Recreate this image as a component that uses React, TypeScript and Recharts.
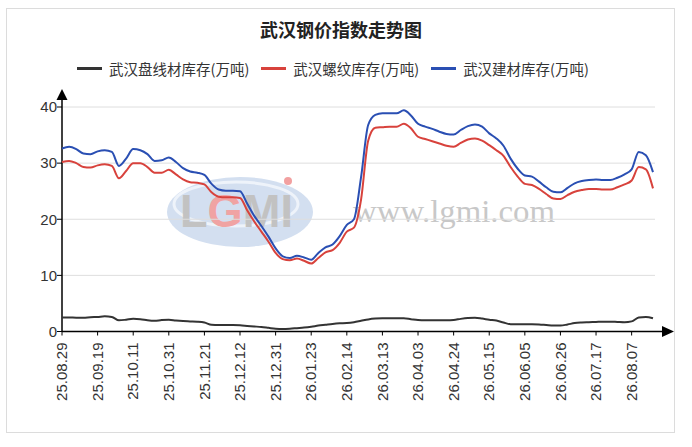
import React from 'react';
import { LineChart, Line, XAxis, YAxis, CartesianGrid, usePlotArea } from 'recharts';

const tickLabels = [
  '25.08.29', '25.09.19', '25.10.11', '25.10.31', '25.11.21', '25.12.12', '25.12.31',
  '26.01.23', '26.02.14', '26.03.13', '26.04.03', '26.04.24', '26.05.15', '26.06.05',
  '26.06.26', '26.07.17', '26.08.07',
];

const wireRod = [
  2.5, 2.5, 2.45, 2.45, 2.55, 2.6, 2.7, 2.6, 2.0, 2.1,
  2.25, 2.2, 2.0, 1.9, 2.05, 2.1, 1.95, 1.85, 1.8, 1.75,
  1.6, 1.2, 1.15, 1.15, 1.15, 1.1, 1.0, 0.9, 0.8, 0.65,
  0.5, 0.45, 0.5, 0.6, 0.7, 0.85, 1.05, 1.2, 1.35, 1.45,
  1.5, 1.65, 1.9, 2.15, 2.3, 2.35, 2.35, 2.35, 2.35, 2.2,
  2.05, 2.0, 2.0, 2.0, 2.0, 2.05, 2.25, 2.4, 2.45, 2.3,
  2.1, 1.95, 1.6, 1.3, 1.28, 1.28, 1.28, 1.25, 1.15, 1.05,
  1.05, 1.25, 1.5, 1.6, 1.65, 1.7, 1.75, 1.75, 1.7, 1.65,
  1.8, 2.5, 2.6, 2.35,
];

const rebar = [
  30.2, 30.4, 30.0, 29.3, 29.2, 29.6, 29.8, 29.5, 27.3, 28.6,
  30.0, 30.0, 29.3, 28.3, 28.3, 28.8, 28.0, 27.1, 26.6, 26.5,
  26.2, 24.8, 24.0, 23.9, 23.9, 23.8, 21.6, 19.6, 17.8, 16.0,
  14.0, 12.9, 12.7, 13.0, 12.6, 12.1, 13.1, 14.1, 14.5, 15.8,
  17.8, 18.5, 23.5, 34.0, 36.3, 36.4, 36.5, 36.5, 37.0, 36.2,
  34.7, 34.3, 33.9, 33.5, 33.1, 32.9, 33.6, 34.2, 34.4, 34.0,
  33.2, 32.3, 31.3, 29.3, 27.6, 26.3, 26.1, 25.4, 24.5, 23.7,
  23.6, 24.3, 24.9, 25.2, 25.4, 25.4, 25.3, 25.3, 25.7, 26.2,
  26.9, 29.3, 28.9, 25.5,
];

const building = [
  32.6, 32.9, 32.5, 31.7, 31.6, 32.1, 32.3, 32.0, 29.5, 30.8,
  32.5, 32.3, 31.6, 30.4, 30.5, 31.0, 30.2, 29.1, 28.5, 28.3,
  27.9, 26.3, 25.3, 25.1, 25.1, 25.0, 22.8, 20.6, 18.8, 16.9,
  14.8, 13.4, 13.1, 13.5, 13.2, 12.8, 14.0, 15.0, 15.5, 17.0,
  19.0, 20.0, 27.5, 36.8, 38.6, 38.9, 38.9, 38.9, 39.4, 38.5,
  37.0, 36.5, 36.1, 35.6, 35.2, 35.1, 35.9, 36.6, 36.9, 36.5,
  35.3, 34.4, 33.1, 30.8, 29.0, 27.8, 27.6, 26.7, 25.7, 24.9,
  24.8, 25.6, 26.4, 26.8, 27.0, 27.1, 27.0, 27.0, 27.4, 28.0,
  28.9, 32.0, 31.4, 28.4,
];

const yTicks = [0, 10, 20, 30, 40];

const series = [
  { key: 'wireRod', name: '武汉盘线材库存(万吨)', color: '#333333' },
  { key: 'rebar', name: '武汉螺纹库存(万吨)', color: '#d8423c' },
  { key: 'building', name: '武汉建材库存(万吨)', color: '#2a4fb3' },
];

const data = wireRod.map((_, i) => ({
  i,
  wireRod: wireRod[i],
  rebar: rebar[i],
  building: building[i],
}));

const cjk = '"Noto Sans CJK SC", "Noto Sans", sans-serif';
const latin = '"Liberation Sans", Arial, sans-serif';

function AxisArrows() {
  const pa = usePlotArea();
  if (!pa) return null;
  const x0 = pa.x;
  const y0 = pa.y + pa.height;
  const xr = pa.x + pa.width;
  const yt = pa.y;
  return (
    <g>
      <line x1={x0} y1={y0} x2={xr + 8} y2={y0} stroke="#000" strokeWidth={1.5} />
      <polygon points={`${xr + 7},${y0 - 5.5} ${xr + 19},${y0} ${xr + 7},${y0 + 5.5}`} fill="#000" />
      <line x1={x0} y1={y0} x2={x0} y2={yt - 8} stroke="#000" strokeWidth={1.5} />
      <polygon points={`${x0 - 5.5},${yt - 7} ${x0},${yt - 18} ${x0 + 5.5},${yt - 7}`} fill="#000" />
    </g>
  );
}

const XTick = (props: any) => {
  const { x, y, payload } = props;
  const idx = Math.round(Number(payload.value) / 5);
  return (
    <text
      x={x}
      y={y}
      transform={`rotate(-90 ${x} ${y})`}
      textAnchor="end"
      dy="0.35em"
      fontSize={15}
      fontFamily={latin}
      fill="#333"
    >
      {tickLabels[idx]}
    </text>
  );
};

function Watermark() {
  return (
    <svg width={692} height={447} style={{ position: 'absolute', left: 0, top: 0 }}>
      <ellipse cx={240} cy={212} rx={73} ry={35} fill="#d3dff0" />
      <ellipse cx={236} cy={204} rx={62} ry={22} fill="none" stroke="#eef3fa" strokeWidth={3} />
      <text
        x={180}
        y={227}
        fontFamily={latin}
        fontWeight="bold"
        fontSize={46}
        textLength={113}
        lengthAdjust="spacingAndGlyphs"
      >
        <tspan fill="#c2c2c2">L</tspan>
        <tspan fill="#f0a3a3">G</tspan>
        <tspan fill="#c2c2c2">M</tspan>
        <tspan fill="#c2c2c2">I</tspan>
      </text>
      <circle cx={288} cy={181} r={4} fill="#f2a0a0" />
      <text
        x={353}
        y={222}
        fontFamily='"Liberation Serif", "Times New Roman", serif'
        fontSize={32}
        fill="#c8c8c8"
        textLength={202}
        lengthAdjust="spacingAndGlyphs"
      >
        www.lgmi.com
      </text>
    </svg>
  );
}

export default function App() {
  return (
    <div style={{ position: 'absolute', left: 0, top: 0, width: 692, height: 447, background: '#fff' }}>
      <div
        style={{
          position: 'absolute',
          left: 6,
          top: 8,
          width: 669,
          height: 425,
          border: '1px solid #dcdcdc',
          boxSizing: 'border-box',
        }}
      />
      <Watermark />
      <div
        style={{
          position: 'absolute',
          left: 0,
          top: 17,
          width: 682,
          textAlign: 'center',
          fontFamily: cjk,
          fontWeight: 'bold',
          fontSize: 18,
          lineHeight: '24px',
          color: '#222',
        }}
      >
        武汉钢价指数走势图
      </div>
      <div
        style={{
          position: 'absolute',
          left: 77,
          top: 57,
          height: 22,
          display: 'flex',
          alignItems: 'center',
          fontFamily: cjk,
          fontSize: 14.5,
          color: '#333',
          whiteSpace: 'nowrap',
        }}
      >
        {series.map((s, k) => (
          <div key={s.key} style={{ display: 'flex', alignItems: 'center', marginLeft: k === 0 ? 0 : 12 }}>
            <div style={{ width: 25, height: 3, background: s.color, marginRight: 7 }} />
            <span>{s.name}</span>
          </div>
        ))}
      </div>
      <div style={{ position: 'absolute', left: 0, top: 0 }}>
        <LineChart
          width={692}
          height={447}
          data={data}
          margin={{ top: 107, right: 37, bottom: 35.5, left: 12 }}
        >
          <CartesianGrid vertical={false} stroke="#dedede" strokeWidth={1} />
          <XAxis
            dataKey="i"
            type="category"
            interval={4}
            height={80}
            axisLine={false}
            tickLine={{ stroke: '#000' }}
            tickSize={4}
            tickMargin={7}
            padding={{ left: 0, right: 2 }}
            tick={<XTick />}
          />
          <YAxis
            domain={[0, 40]}
            ticks={yTicks}
            width={50}
            axisLine={false}
            tickLine={{ stroke: '#000' }}
            tickSize={5}
            tickMargin={0}
            tick={{ fontSize: 15, fontFamily: latin, fill: '#333' }}
          />
          {series.map((s) => (
            <Line
              key={s.key}
              type="monotone"
              dataKey={s.key}
              name={s.name}
              stroke={s.color}
              strokeWidth={2}
              dot={false}
              activeDot={false}
              isAnimationActive={false}
            />
          ))}
          <AxisArrows />
        </LineChart>
      </div>
    </div>
  );
}
